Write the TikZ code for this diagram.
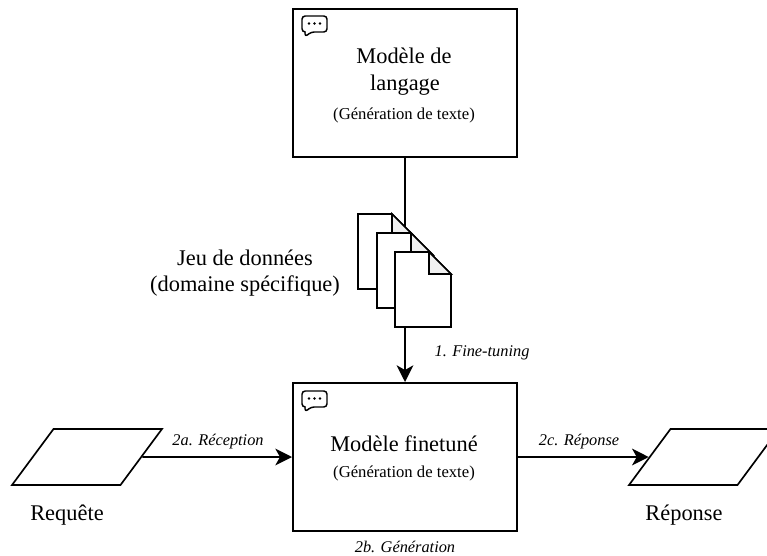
\documentclass[tikz,border=0pt]{standalone}
\usepackage{fontspec}
\setmainfont{Liberation Serif}
\usetikzlibrary{shapes.geometric,arrows.meta}
\newcommand{\bubble}[2]{%
  \draw[iconline,rounded corners=2.4] (#1,#2) -- ++(25,0) -- ++(0,16) -- ++(-16,0) -- ++(-6,5) [sharp corners] -- ++(0,-5) [rounded corners=2.4] -- ++(-3,0) -- cycle;
  \fill (#1+7,#2+7.5) circle[radius=1.3] (#1+12.5,#2+7.5) circle[radius=1.3] (#1+18,#2+7.5) circle[radius=1.3];}
\newcommand{\docsheet}[2]{%
  \draw[docline,fill=white] (#1,#2) -- ++(34,0) -- ++(22,22) -- ++(0,53) -- ++(-56,0) -- cycle;
  \draw[docline,fill=black!6] (#1+34,#2) -- ++(22,22) -- ++(-22,0) -- cycle;}
\tikzset{
  x=0.75pt,y=-0.75pt,
  mainbox/.style={draw,line width=1.5pt,fill=white,minimum width=168pt,minimum height=111pt,inner sep=0pt,align=center},
  slanted box/.style={draw,line width=1.25pt,trapezium,trapezium stretches=true,trapezium left angle=56,trapezium right angle=124,minimum width=112.5pt,minimum height=42pt,inner sep=0pt},
  flow/.style={line width=1.25pt,-{Stealth[length=12.5pt,width=12.5pt,inset=3.5pt]}},
  iconline/.style={line width=1.1pt,line join=round},
  docline/.style={line width=1.25pt,line join=miter},
  big/.style={font=\fontsize{16.8pt}{16.8pt}\selectfont,align=center},
  sub/.style={font=\fontsize{12.5pt}{12.5pt}\selectfont},
  stepnote/.style={font=\fontsize{12.25pt}{12.25pt}\selectfont\itshape,inner sep=0pt},
}
\begin{document}
\begin{tikzpicture}
\useasboundingbox (0,0) rectangle (767,556);
\clip (0,0) rectangle (767,556);
\node[mainbox] (top) at (405,83) {};
\node[mainbox] (low) at (405,457) {};
\node[slanted box] (req) at (87,457) {\phantom{x}};
\node[slanted box] (rep) at (704,457) {\phantom{x}};
\draw[flow] (top.south) -- (low.north);
\draw[flow] (req.east) -- (low.west);
\draw[flow] (low.east) -- (rep.west);
\docsheet{358}{214}
\docsheet{377}{233}
\docsheet{395}{252}
\bubble{302}{16}
\bubble{302}{391}
\node[big] (t1) at (404,55.5) {Modèle de};
\node[big] (t2) at (405,85) {langage};
\node[sub] (t3) at (404,115.5) {(Génération de texte)};
\node[big] (t4) at (404,443.5) {Modèle finetuné};
\node[sub] (t5) at (404,473.5) {(Génération de texte)};
\node[big] (ds1) at (245,258) {Jeu de données};
\node[big] (ds2) at (245,286) {(domaine spécifique)};
\node[big] (rq) at (67,515) {Requête};
\node[big] (rp) at (684,515) {Réponse};
\node[stepnote] (l1) at (482,353) {1. Fine-tuning};
\node[stepnote] (l2) at (218,442) {2a. Réception};
\node[stepnote] (l3) at (579,442) {2c. Réponse};
\node[stepnote] (l4) at (405,547) {2b. Génération};
\end{tikzpicture}
\end{document}
